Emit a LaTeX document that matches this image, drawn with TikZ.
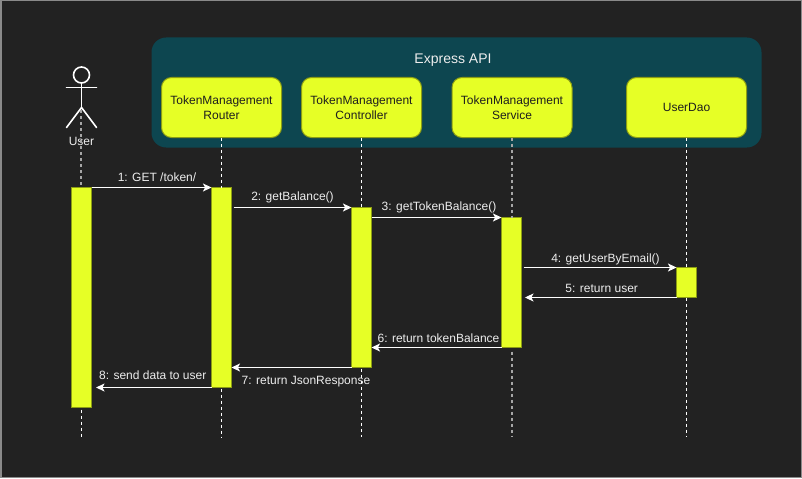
\documentclass[tikz,border=0pt]{standalone}
\usepackage{fontspec}
\setmainfont{Liberation Sans}
\usetikzlibrary{arrows.meta}
\definecolor{pagebg}{HTML}{222222}
\definecolor{pageedge}{HTML}{8A8A8A}
\definecolor{groupbg}{HTML}{0D4650}
\definecolor{lime}{HTML}{E6FF26}
\definecolor{limeedge}{HTML}{8C9C14}
\definecolor{lightink}{HTML}{EDEDED}
\definecolor{darkink}{HTML}{1E1E1E}
\definecolor{softline}{HTML}{A6A6A6}
\tikzset{
  x=0.75pt,y=-0.75pt,
  px/.style={line width=#1*0.75pt},
  groupbox/.style={fill=groupbg,draw=none,rounded corners=11pt,inner sep=0pt,outer sep=0pt,
    minimum width=457.5pt,minimum height=82.5pt},
  partbox/.style={fill=lime,draw=limeedge,px=1,rounded corners=7.5pt,inner sep=0pt,outer sep=0pt,
    minimum width=90pt,minimum height=45pt,align=center,text=darkink,font=\fontsize{9pt}{11.25pt}\selectfont},
  activation/.style={fill=lime,draw=limeedge,px=1,inner sep=0pt,outer sep=0pt,minimum width=15pt,minimum height=#1*0.75pt},
  lifeline/.style={draw=white,px=1,dash pattern=on 2.25pt off 2.25pt},
  softlife/.style={lifeline,draw=softline,px=1.6},
  message/.style={draw=white,px=1,-{Stealth[length=6.4pt,width=6pt,inset=1.6pt]}},
  msgtext/.style={text=lightink,inner sep=0pt,anchor=base,font=\fontsize{9pt}{11.25pt}\selectfont},
  stick/.style={draw=white,px=1.6,line cap=round},
}
\begin{document}
\begin{tikzpicture}
\useasboundingbox (0,0) rectangle (802,478);
\fill[pageedge] (0,0) rectangle (802,478);
\fill[pagebg] (1.5,1.5) rectangle (801,477);

% group
\node[groupbox] (api) at (456.5,92.5) {};
\node[text=lightink,inner sep=0pt,font=\fontsize{10.5pt}{13pt}\selectfont,anchor=base] (apilabel) at (453,64) {Express API};

% participants
\node[partbox] (router) at (221.5,107.5) {TokenManagement\\Router};
\node[partbox] (controller) at (361.5,107.5) {TokenManagement\\Controller};
\node[partbox] (service) at (512,107.5) {TokenManagement\\Service};
\node[partbox] (dao) at (686.5,107.5) {UserDao};

% actor
\node[circle,draw=white,px=1.6,inner sep=0pt,outer sep=0pt,minimum size=12pt] (head) at (81.5,75) {};
\coordinate (hip) at (81.5,107.5);
\coordinate (armL) at (66.5,87.5);
\coordinate (armR) at (96.5,87.5);
\coordinate (legL) at (66.5,127.5);
\coordinate (legR) at (96.5,127.5);
\draw[stick] (head.south) -- (hip);
\draw[stick] (armL) -- (armR);
\draw[stick] (legL) -- (hip) -- (legR);
\node[text=lightink,inner sep=0pt,anchor=base,font=\fontsize{9pt}{11.25pt}\selectfont] (user) at (81.5,145.3) {User};

% activations
\node[activation=220] (actU) at (81.5,297.5) {};
\node[activation=200] (actR) at (221.5,287.5) {};
\node[activation=160] (actC) at (361.5,287.5) {};
\node[activation=130] (actS) at (511.5,282.5) {};
\node[activation=30] (actD) at (686.5,282.5) {};

% lifeline ends
\coordinate (endU) at (81.5,437);
\coordinate (endR) at (221.5,437);
\coordinate (endC) at (361.5,437);
\coordinate (endS) at (512,437);
\coordinate (endD) at (686.5,437);
\coordinate (startU) at (81,110);
\coordinate (topU) at (81,187);

% lifelines
\draw[softlife] (startU) -- (topU);
\draw[lifeline,shorten <=1.5pt] (actU.south) -- (endU);
\draw[lifeline] (router.south) -- (actR.north);
\draw[lifeline,shorten <=0.75pt] (actR.south) -- (endR);
\draw[lifeline] (controller.south) -- (actC.north);
\draw[lifeline,shorten <=0.75pt] (actC.south) -- (endC);
\draw[softlife] (service.south) -- (actS.north -| service.south);
\draw[softlife,shorten <=3pt] (actS.south -| service.south) -- (endS);
\draw[lifeline] (dao.south) -- (actD.north);
\draw[lifeline] (actD.south) -- (endD);

% messages
\draw[message] (actU.north east) -- (actR.north west);
\draw[message,shorten <=1.5pt] (actR.east |- actC.north) -- (actC.north west);
\draw[message] (actC.east |- actS.north) -- (actS.north west);
\draw[message,shorten <=1.5pt] (actS.east |- actD.north) -- (actD.north west);
\draw[message,shorten >=2.6pt] (actD.south west) -- (actS.east |- actD.south);
\draw[message] (actS.south west) -- (actC.east |- actS.south);
\draw[message] (actC.south west) -- (actR.east |- actC.south);
\draw[message,shorten >=3.4pt] (actR.south west) -- (actU.east |- actR.south);

% labels
\node[msgtext] (l1) at (157,181) {1: GET /token/};
\node[msgtext] (l2) at (292.5,200.5) {2: getBalance()};
\node[msgtext] (l3) at (439,210.5) {3: getTokenBalance()};
\node[msgtext] (l4) at (605.5,262.5) {4: getUserByEmail()};
\node[msgtext] (l5) at (601.7,292.5) {5: return user};
\node[msgtext] (l6) at (438.5,342.5) {6: return tokenBalance};
\node[msgtext] (l7) at (306,384.5) {7: return JsonResponse};
\node[msgtext] (l8) at (152.7,379.5) {8: send data to user};
\end{tikzpicture}
\end{document}
